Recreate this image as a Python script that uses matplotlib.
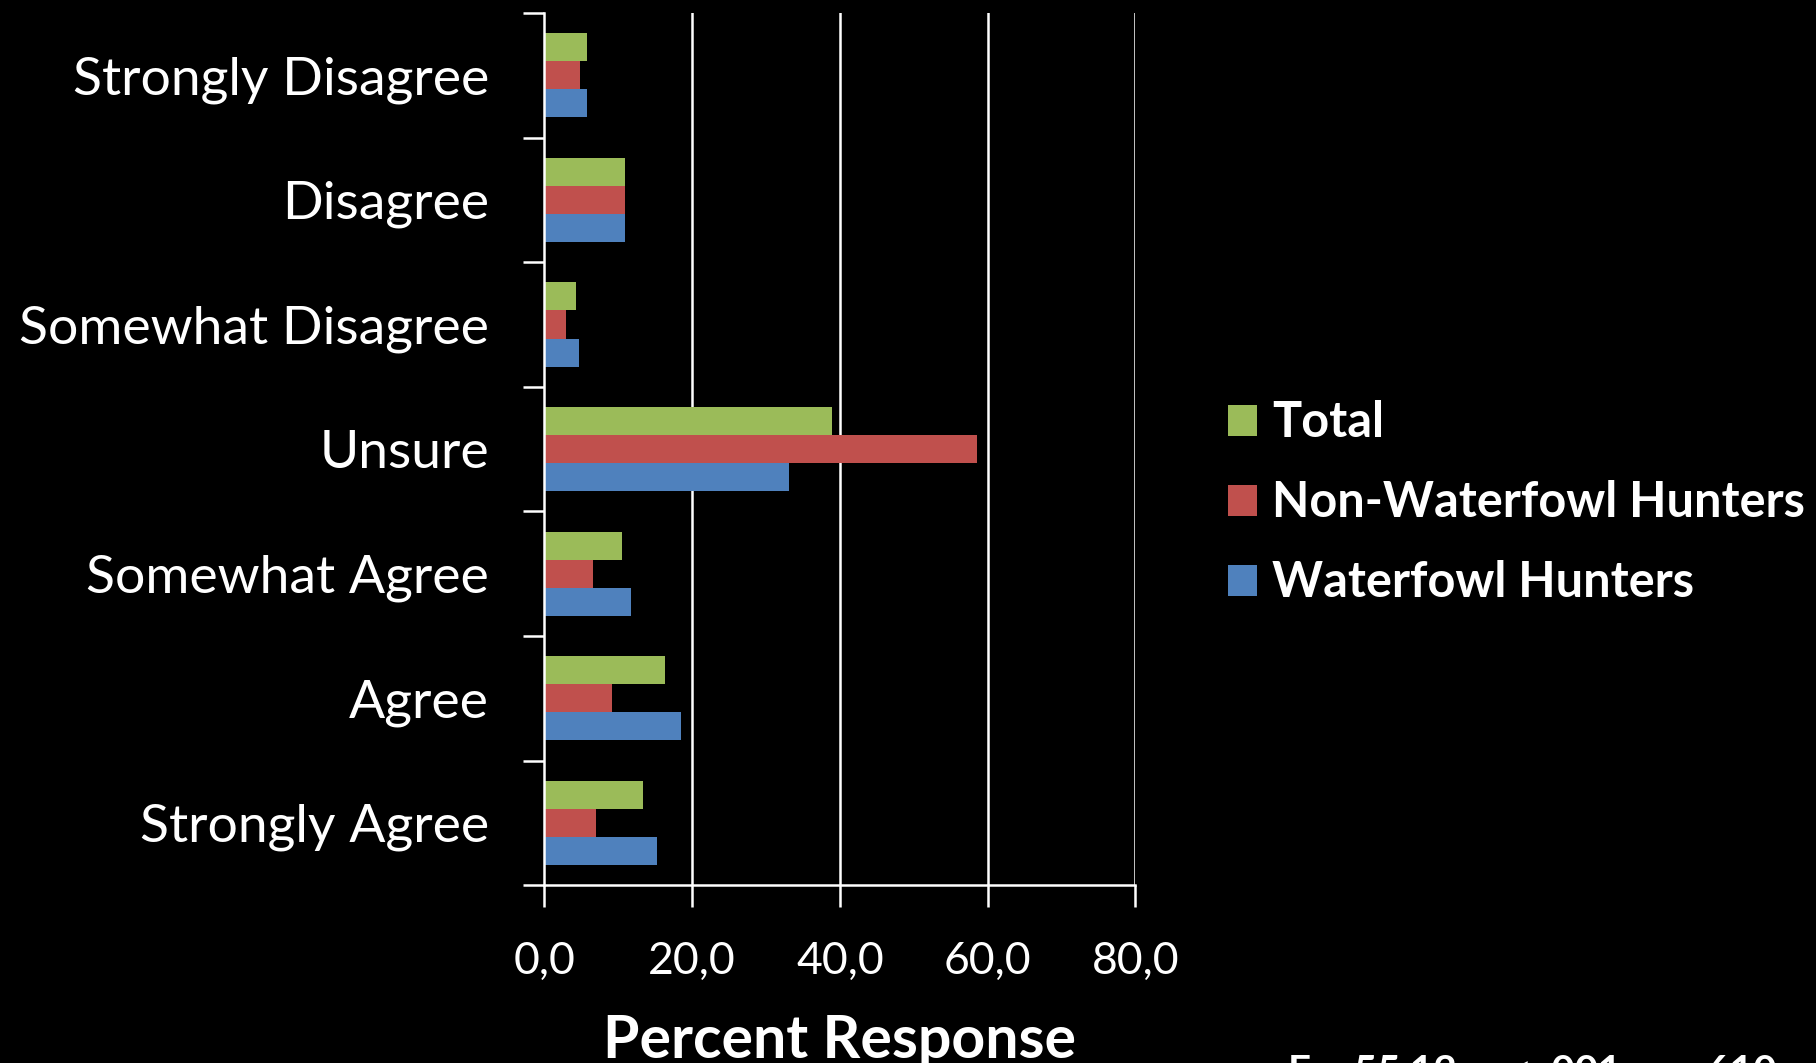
import numpy as np
import matplotlib.pyplot as plt
from matplotlib.patches import Patch

# Survey responses (percent) per answer category
categories = ['Strongly Disagree', 'Disagree', 'Somewhat Disagree', 'Unsure',
              'Somewhat Agree', 'Agree', 'Strongly Agree']
total = [5.7, 10.9, 4.3, 38.9, 10.5, 16.3, 13.3]
non_waterfowl = [4.8, 10.9, 2.9, 58.6, 6.6, 9.1, 7.0]
waterfowl = [5.7, 10.9, 4.7, 33.1, 11.7, 18.5, 15.2]

series_names = ['Total', 'Non-Waterfowl Hunters', 'Waterfowl Hunters']
series_colors = ['#9BBB59', '#C0504D', '#4F81BD']

xticks = [0, 20, 40, 60, 80]
xtick_labels = ['0,0', '20,0', '40,0', '60,0', '80,0']
stats_text = 'F = 55.12, p < .001, n = 610'

plt.rcParams['font.family'] = ['Lato', 'DejaVu Sans']

fig = plt.figure(figsize=(18.16, 10.63), dpi=100, facecolor='black')
ax = fig.add_axes([0.2998, 0.1672, 0.3254, 0.8206], facecolor='black')

y = np.arange(len(categories))
h = 0.225
for offset, vals, color in zip([-h, 0, h], [total, non_waterfowl, waterfowl], series_colors):
    ax.barh(y + offset, vals, height=h, color=color, zorder=3)

ax.set_xlim(0, 80)
ax.set_ylim(len(categories) - 0.5, -0.5)

# vertical gridlines
for xv in xticks[1:]:
    ax.axvline(xv, color='white', lw=1.8, zorder=1)

for side in ['top', 'right']:
    ax.spines[side].set_visible(False)
for side in ['left', 'bottom']:
    ax.spines[side].set_color('white')
    ax.spines[side].set_linewidth(1.8)
    ax.spines[side].set_zorder(4)

ax.set_xticks(xticks)
ax.set_xticklabels(xtick_labels)
ax.set_yticks(np.arange(len(categories) + 1) - 0.5, minor=False)
ax.set_yticklabels([])
ax.set_yticks(y, minor=True)
ax.set_yticklabels(categories, minor=True)
ax.tick_params(axis='y', which='major', direction='out', length=15, width=1.8, color='white')
ax.tick_params(axis='y', which='minor', length=0, pad=40, labelsize=38.5, labelcolor='white')
ax.tick_params(axis='x', direction='out', length=16, width=1.8, color='white',
               pad=24, labelsize=32, labelcolor='white')

ax.set_xlabel('Percent Response', color='white', fontsize=42.5, fontweight='bold')
ax.xaxis.set_label_coords(0.5, -0.148)

handles = [Patch(facecolor=c, edgecolor='none') for c in series_colors]
leg = fig.legend(handles, series_names, loc='center left', bbox_to_anchor=(0.663, 0.527),
                 frameon=False, fontsize=35, handlelength=0.6, handleheight=0.6,
                 handletextpad=0.3, labelspacing=0.72, borderpad=0)
for t in leg.get_texts():
    t.set_color('white')
    t.set_fontweight('bold')

fig.text(0.709, 0.0085, stats_text, color='white', fontsize=29, fontweight='bold',
         ha='left', va='top')

fig.savefig('out.png', dpi=100, facecolor='black')
